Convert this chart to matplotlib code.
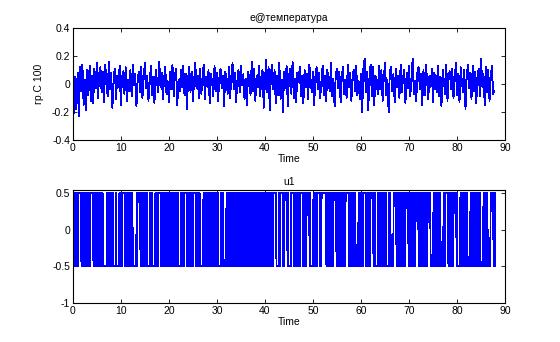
import numpy as np
import matplotlib
matplotlib.use("Agg")
import matplotlib.pyplot as plt

plt.rcParams["font.family"] = ["Liberation Sans", "DejaVu Sans"]
plt.rcParams["font.size"] = 7.5

# top panel: temperature deviation, every 0.25 s
dt_temp = 0.25
temp = [
    0.00, -0.21, 0.05, -0.18, 0.08, -0.23, 0.12, -0.05, 0.14, -0.15, 0.03, -0.19, 0.10, -0.08, 0.13, -0.12,
    0.06, -0.14, 0.11, -0.03, 0.15, -0.10, 0.07, 0.12, -0.06, 0.09, -0.13, 0.14, 0.02, -0.09, 0.16, -0.04,
    0.08, -0.17, 0.04, 0.11, -0.11, 0.06, -0.02, 0.13, -0.15, 0.05, 0.09, -0.07, 0.12, -0.12, 0.03, -0.05,
    0.10, -0.09, 0.14, -0.01, 0.07, -0.16, 0.02, 0.09, -0.06, 0.12, -0.10, 0.04, 0.15, -0.03, 0.06, -0.12,
    0.01, 0.13, -0.08, 0.05, -0.14, 0.10, 0.03, -0.06, 0.16, -0.02, 0.08, -0.11, 0.04, 0.12, -0.07, 0.02,
    -0.13, 0.09, -0.04, 0.14, -0.09, 0.06, 0.11, -0.15, 0.03, -0.05, 0.10, -0.02, 0.13, -0.08, 0.07, -0.18,
    0.04, 0.12, -0.06, 0.09, -0.12, 0.01, 0.15, -0.03, 0.06, -0.10, 0.11, -0.07, 0.03, 0.14, -0.11, 0.05,
    -0.02, 0.10, -0.14, 0.07, 0.02, -0.09, 0.13, -0.05, 0.08, -0.12, 0.04, 0.11, -0.03, 0.06, -0.16, 0.09,
    0.01, -0.07, 0.12, -0.10, 0.05, 0.15, -0.04, 0.08, -0.13, 0.02, 0.10, -0.06, 0.13, -0.01, 0.07, -0.11,
    0.04, -0.15, 0.09, 0.03, -0.08, 0.16, -0.05, 0.11, -0.12, 0.06, -0.02, 0.13, -0.09, 0.05, 0.10, -0.17,
    0.02, 0.17, -0.06, 0.12, -0.19, 0.08, 0.14, -0.04, 0.10, -0.14, 0.06, -0.08, 0.15, -0.11, 0.03, -0.20,
    0.09, -0.03, 0.13, -0.16, 0.05, 0.11, -0.07, 0.16, -0.10, 0.04, -0.13, 0.08, 0.01, 0.12, -0.09, 0.06,
    -0.14, 0.10, -0.02, 0.07, -0.11, 0.14, 0.03, -0.06, 0.09, -0.15, 0.05, 0.12, -0.04, 0.08, -0.10, 0.02,
    0.13, -0.08, 0.06, -0.12, 0.10, 0.01, -0.05, 0.15, -0.09, 0.04, -0.16, 0.07, 0.11, -0.03, 0.09, -0.13,
    0.05, 0.12, -0.07, 0.03, -0.10, 0.14, -0.02, 0.08, -0.12, 0.06, 0.10, -0.05, 0.13, -0.08, 0.02, -0.11,
    0.07, -0.20, 0.11, 0.18, -0.06, 0.09, -0.19, 0.04, 0.14, -0.09, 0.12, -0.15, 0.06, 0.02, -0.07, 0.13,
    -0.04, 0.10, -0.12, 0.05, 0.15, -0.08, 0.03, -0.20, 0.09, 0.12, -0.05, 0.07, -0.13, 0.11, -0.02, 0.06,
    -0.10, 0.14, -0.06, 0.04, 0.10, -0.14, 0.08, -0.03, 0.13, -0.09, 0.05, 0.18, -0.07, 0.02, -0.12, 0.09,
    0.12, -0.04, 0.07, -0.15, 0.10, -0.08, 0.14, 0.03, -0.11, 0.06, -0.02, 0.11, -0.13, 0.08, 0.04, -0.06,
    0.13, -0.09, 0.05, -0.16, 0.10, 0.02, -0.07, 0.14, -0.12, 0.06, 0.09, -0.04, 0.11, -0.10, 0.03, 0.15,
    -0.08, 0.07, -0.13, 0.12, 0.01, -0.06, 0.10, -0.18, 0.05, 0.14, -0.03, 0.08, -0.11, 0.13, -0.05, 0.09,
    -0.14, 0.06, 0.11, -0.09, 0.18, -0.02, 0.07, -0.15, 0.12, -0.06, 0.10, -0.12, 0.04, 0.13, -0.07, -0.05,
]
t_temp = np.arange(len(temp)) * dt_temp

# bottom panel: +-0.5 input switching every sample, except where it holds
# (the white stripes in the picture); hold start times and lengths in s
dt_u1 = 0.1
u1_end = 88.0
u1_hold_start = [1.3, 3.8, 6.4, 8.5, 9.2, 10.4, 12.6, 13.6, 15.6, 16.7, 17.9, 22.1,
                 23.3, 25.2, 26.6, 30.4, 31.5, 41.9, 42.5, 43.3, 44.2, 45.0, 45.6,
                 47.5, 48.8, 49.6, 51.0, 51.9, 52.3, 54.4, 56.9, 59.0, 60.6, 62.1,
                 63.1, 65.4, 66.3, 66.9, 69.4, 71.5, 74.0, 74.6, 76.7, 77.7, 79.4,
                 80.2, 82.3, 85.0, 86.5, 87.1]
u1_hold_len = [0.45, 0.45, 0.7, 0.45, 0.45, 0.45, 0.7, 0.45, 0.45, 0.45, 0.45, 0.45,
               0.45, 0.45, 0.6, 0.45, 0.45, 0.45, 0.45, 0.45, 0.45, 0.45, 0.45,
               0.45, 0.45, 0.45, 0.45, 0.45, 0.45, 0.45, 0.6, 0.45, 0.45, 0.45,
               0.45, 0.45, 0.45, 0.45, 0.45, 0.45, 0.45, 0.45, 0.45, 0.45, 0.45,
               0.45, 0.45, 0.45, 0.45, 0.45]

t_u1 = np.arange(0, u1_end + dt_u1 / 2, dt_u1)
u1 = np.empty_like(t_u1)
level = 0.5
for i, t in enumerate(t_u1):
    held = any(s <= t < s + d for s, d in zip(u1_hold_start, u1_hold_len))
    if i > 0 and not held:
        level = -level
    u1[i] = level

fig = plt.figure(figsize=(5.6, 3.42), dpi=100)
ax1 = fig.add_axes([0.130, 0.591, 0.772, 0.327])
ax2 = fig.add_axes([0.130, 0.114, 0.772, 0.330])

ax1.plot(t_temp, temp, color="#0000ff", lw=0.6, antialiased=False)
ax1.set_xlim(0, 90)
ax1.set_ylim(-0.4, 0.4)
ax1.set_yticks([-0.4, -0.2, 0, 0.2, 0.4])
ax1.set_yticklabels(["-0.4", "-0.2", "0", "0.2", "0.4"])
ax1.set_title("е@температура", fontsize=7.5, pad=5)
ax1.set_ylabel("гр.С 100", labelpad=6)
ax1.set_xlabel("Time", labelpad=1)

ax2.plot(t_u1, u1, color="#0000ff", lw=0.6, antialiased=False)
ax2.set_xlim(0, 90)
ax2.set_ylim(-1, 0.54)
ax2.set_yticks([-1, -0.5, 0, 0.5])
ax2.set_yticklabels(["-1", "-0.5", "0", "0.5"])
ax2.set_title("u1", fontsize=7.5, pad=4)
ax2.set_xlabel("Time", labelpad=1)

for ax in (ax1, ax2):
    ax.set_xticks(range(0, 91, 10))
    ax.tick_params(direction="in", top=True, right=True, length=3, width=0.6, pad=2)
    for sp in ax.spines.values():
        sp.set_linewidth(0.8)

fig.savefig("out.png", dpi=100)
